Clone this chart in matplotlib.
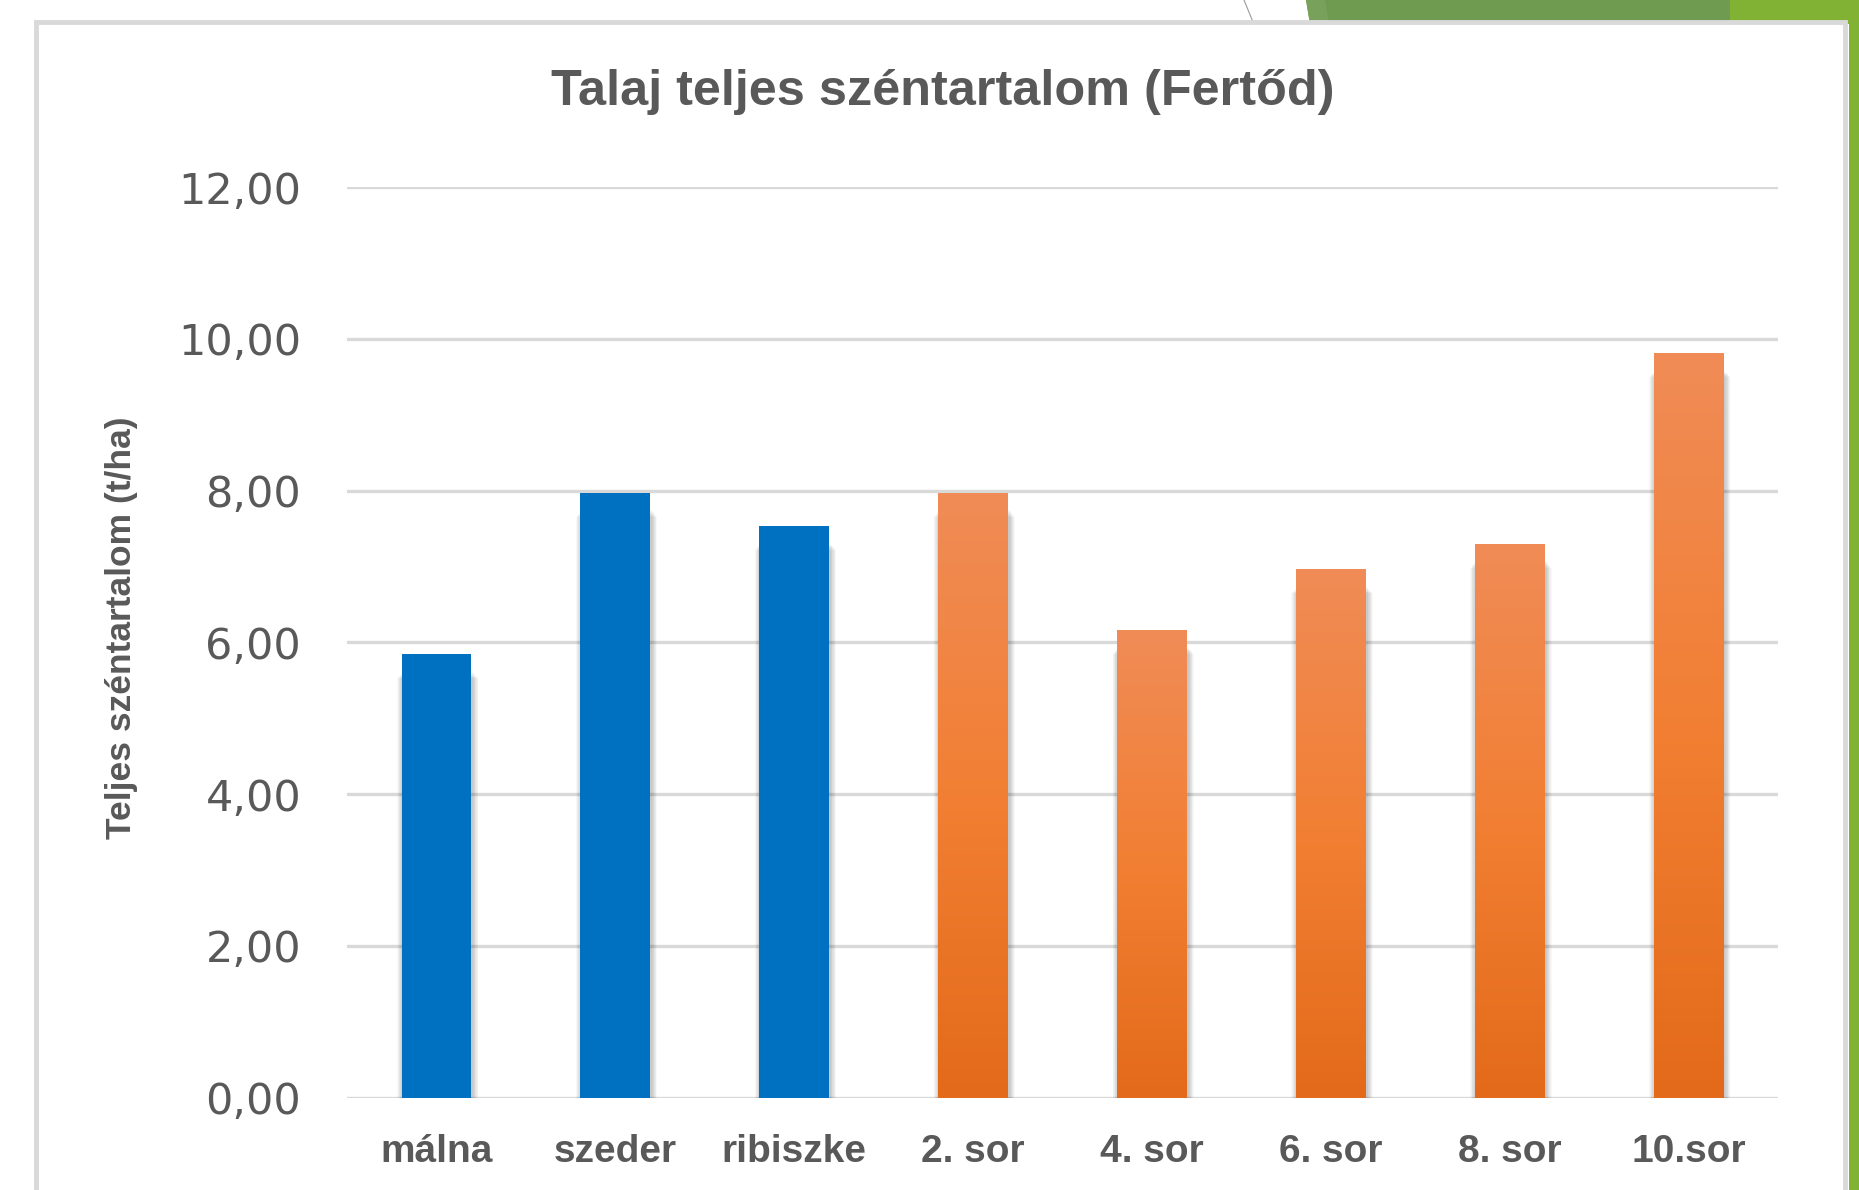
import numpy as np
import matplotlib.pyplot as plt
from matplotlib.patches import Rectangle, Polygon
from matplotlib.lines import Line2D
from matplotlib.colors import LinearSegmentedColormap

# adatok
categories = ["málna", "szeder", "ribiszke", "2. sor", "4. sor", "6. sor", "8. sor", "10.sor"]
values = [5.84, 7.97, 7.53, 7.97, 6.16, 6.96, 7.30, 9.81]
is_orange = [False, False, False, True, True, True, True, True]
yticks = [0, 2, 4, 6, 8, 10, 12]

W, H = 1859, 1190
fig = plt.figure(figsize=(W / 100, H / 100), dpi=100)
fig.patch.set_facecolor("white")

def px(x, y):
    # figure pixel -> figure fraction (y from top)
    return x / W, 1 - y / H

# zöld dísz a jobb felső sarokban
deco = dict(transform=fig.transFigure, edgecolor="none", zorder=-3)
fig.add_artist(Polygon([px(1306, 0), px(1730, 0), px(1730, 24), px(1310, 24)],
                       closed=True, facecolor="#6f9b51", **deco))
fig.add_artist(Polygon([px(1306, 0), px(1325, 0), px(1329, 24), px(1310, 24)],
                       closed=True, facecolor="#78a25c", **deco))
fig.add_artist(Rectangle(px(1730, 24), (W - 1730) / W, 24 / H, facecolor="#82b233", **deco))
fig.add_artist(Rectangle(px(1849, H), 10 / W, 1, facecolor="#82b233", **deco))
fig.add_artist(Line2D([1244 / W, 1253 / W], [1, 1 - 22 / H], transform=fig.transFigure,
                      color="#9a9a9a", lw=0.8, zorder=-3))

# diagram kerete
fig.add_artist(Rectangle(px(36, H + 20), (1845 - 36) / W, (H + 20 - 22) / H,
                         transform=fig.transFigure, facecolor="white",
                         edgecolor="#d9d9d9", lw=3.5, zorder=-2))

ax = fig.add_axes([347 / W, 1 - 1097.5 / H, (1778 - 347) / W, (1097.5 - 187) / H])
ax.set_facecolor("none")
x = np.arange(len(categories))
bw = 0.39

# elmosott árnyék
for k in range(1, 9):
    ax.bar(x + 0.007, np.array(values) - 0.02 - 0.012 * k, width=bw + 0.008 * k, bottom=-0.2,
           color="black", alpha=0.028, zorder=2, linewidth=0)

grad = np.linspace(0, 1, 256).reshape(-1, 1)
cmap = LinearSegmentedColormap.from_list("narancs", ["#e36a1a", "#f27f33", "#f08c57"])

bars = ax.bar(x, values, width=bw, color="#0070c0", zorder=3, linewidth=0)
for b, orange in zip(bars, is_orange):
    if orange:
        b.set_facecolor("none")
        x0, w, h = b.get_x(), b.get_width(), b.get_height()
        im = ax.imshow(grad, cmap=cmap, aspect="auto", origin="lower",
                       extent=[x0, x0 + w, 0, h], zorder=3)
        im.set_clip_path(b)

ax.set_xlim(-0.5, len(categories) - 0.5)
ax.set_ylim(0, 12)
ax.set_yticks(yticks)
ax.set_yticklabels([f"{v:.2f}".replace(".", ",") for v in yticks],
                   fontsize=31, color="#595959", family="DejaVu Sans")
ax.set_xticks(x)
ax.set_xticklabels(categories, fontsize=28, color="#595959", fontweight="bold",
                   family="Liberation Sans")
ax.tick_params(axis="both", length=0)
ax.tick_params(axis="y", pad=33)
ax.tick_params(axis="x", pad=26.5)
ax.grid(axis="y", color="#d9d9d9", lw=2.4)
ax.set_axisbelow(True)
for s in ax.spines.values():
    s.set_visible(False)

fig.text(943 / W, 1 - 92 / H, "Talaj teljes széntartalom (Fertőd)", ha="center", va="center",
         fontsize=36.3, fontweight="bold", color="#595959", family="Liberation Sans")
fig.text(122 / W, 1 - 628 / H, "Teljes széntartalom (t/ha)", ha="center", va="center",
         rotation=90, fontsize=25.5, fontweight="bold", color="#595959",
         family="Liberation Sans")

fig.savefig("out.png", dpi=100)
